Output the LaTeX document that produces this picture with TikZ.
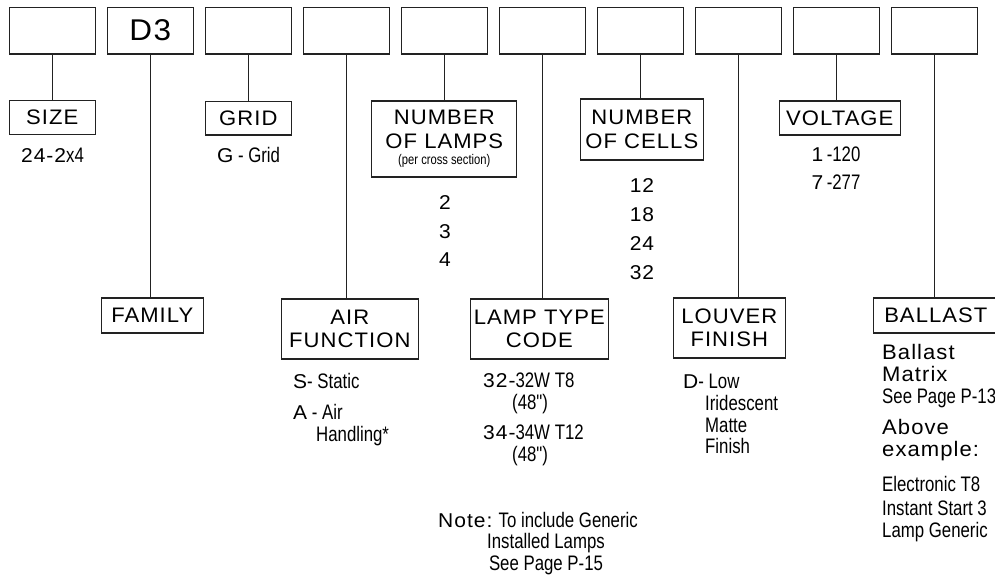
\documentclass[tikz,border=0pt]{standalone}
\usepackage{fontspec}
\setmainfont{Liberation Sans}
\newfontfamily\widefont{Liberation Sans}[FakeStretch=1.05,LetterSpace=5]
\newfontfamily\narrowfont{Liberation Sans}[FakeStretch=0.8]
\newcommand\wideL{\widefont\fontsize{21}{22}\selectfont}
\usetikzlibrary{positioning}
\definecolor{inkgray}{HTML}{222222}

\begin{document}
\begin{tikzpicture}[
  x=1pt, y=-1pt,
  codebox/.style={rectangle, draw=inkgray, line width=1.1pt, minimum width=86pt,
    minimum height=46.7pt, inner sep=0pt, outer sep=0pt,
    font=\widefont\fontsize{30}{32}\selectfont},
  field/.style={rectangle, draw=inkgray, line width=1.1pt, inner sep=0pt,
    outer sep=0pt, align=center, font=\widefont\fontsize{21}{23.5}\selectfont},
  choice/.style={inner sep=0pt, align=left, anchor=north west,
    font=\narrowfont\fontsize{21}{22}\selectfont},
  numlist/.style={inner sep=0pt, align=center, anchor=north,
    font=\widefont\fontsize{20}{#1}\selectfont},
  wire/.style={draw=inkgray, line width=0.9pt},
  node distance=12pt,
]
  \clip (0,0) rectangle (995,578);

  % catalogue code boxes
  \node[codebox] (c1) at (52.3,30.65) {};
  \node[codebox, right=of c1] (c2) {D3};
  \node[codebox, right=of c2] (c3) {};
  \node[codebox, right=of c3] (c4) {};
  \node[codebox, right=of c4] (c5) {};
  \node[codebox, right=of c5] (c6) {};
  \node[codebox, right=of c6] (c7) {};
  \node[codebox, right=of c7] (c8) {};
  \node[codebox, right=of c8] (c9) {};
  \node[codebox, right=of c9] (c10) {};

  % field names
  \node[field, below=46.7pt of c1, minimum width=86pt, minimum height=34pt] (size) {SIZE};
  \node[field, below=47.7pt of c3, minimum width=86pt, minimum height=33.3pt] (grid) {GRID};
  \node[field, below=244pt of c2, xshift=2pt, minimum width=102pt, minimum height=35pt] (family) {FAMILY};
  \node[field, below=245pt of c4, xshift=3.5pt, minimum width=137pt, minimum height=60pt] (airfn) {AIR\\FUNCTION};
  \node[field, below=47pt of c5, minimum width=145pt, minimum height=76pt] (lamps)
    {NUMBER\\OF LAMPS\\[-7pt]\narrowfont\fontsize{14}{15}\selectfont (per cross section)};
  \node[field, below=245pt of c6, xshift=-3pt, minimum width=138pt, minimum height=60pt] (lamptype) {LAMP TYPE\\CODE};
  \node[field, below=45pt of c7, xshift=1.5pt, minimum width=123pt, minimum height=61pt] (cells) {NUMBER\\OF CELLS};
  \node[field, below=244pt of c8, xshift=-9pt, minimum width=112pt, minimum height=60pt] (louver) {LOUVER\\FINISH};
  \node[field, below=47pt of c9, xshift=3.5pt, minimum width=121pt, minimum height=34pt] (voltage) {VOLTAGE};
  \node[field, below=244pt of c10, xshift=1.5pt, minimum width=125pt, minimum height=35pt] (ballast) {BALLAST};

  \draw[wire] (c1.south) -- (c1.south |- size.north);
  \draw[wire] (c2.south) -- (c2.south |- family.north);
  \draw[wire] (c3.south) -- (c3.south |- grid.north);
  \draw[wire] (c4.south) -- (c4.south |- airfn.north);
  \draw[wire] (c5.south) -- (c5.south |- lamps.north);
  \draw[wire] (c6.south) -- (c6.south |- lamptype.north);
  \draw[wire] (c7.south) -- (c7.south |- cells.north);
  \draw[wire] (c8.south) -- (c8.south |- louver.north);
  \draw[wire] (c9.south) -- (c9.south |- voltage.north);
  \draw[wire] (c10.south) -- (c10.south |- ballast.north);

  % options
  \node[choice, anchor=center] (sizeopt) at (52.5,155) {{\widefont\fontsize{20}{22}\selectfont 24-2}x4};
  \node[choice, anchor=center] (gridopt) at (248.5,155) {{\widefont\fontsize{20}{22}\selectfont G} - Grid};
  \node[numlist=28.5] (lampsopt) at (445,195.5) {2\\3\\4};
  \node[numlist=29] (cellsopt) at (642,178.5) {12\\18\\24\\32};
  \node[choice, align=center, anchor=north, font=\narrowfont\fontsize{21}{28}\selectfont] (voltopt) at (836,147)
    {{\widefont\fontsize{20}{28}\selectfont 1}\,-120\\{\widefont\fontsize{20}{28}\selectfont 7}\,-277};
  \node[choice] (airopt) at (293,373)
    {{\widefont\fontsize{20}{22}\selectfont S}- Static\\[9pt]{\widefont\fontsize{20}{22}\selectfont A} - Air\\\hspace*{23pt}Handling*};
  \node[choice] (lampopt) at (483,373)
    {{\widefont\fontsize{20}{22}\selectfont 32-}32W T8\\\hspace*{29pt}(48")\\[8pt]{\widefont\fontsize{20}{22}\selectfont 34-}34W T12\\\hspace*{29pt}(48")};
  \node[choice, font=\narrowfont\fontsize{21}{21.7}\selectfont] (louveropt) at (683,374)
    {{\widefont\fontsize{20}{22}\selectfont D}- Low\\\hspace*{22pt}Iridescent\\\hspace*{22pt}Matte\\\hspace*{22pt}Finish};
  \node[choice] (ballastopt) at (882,344)
    {\wideL Ballast\\\wideL Matrix\\\narrowfont See Page P-13\\[9pt]\wideL Above\\\wideL example:\\[13pt]%
     \narrowfont Electronic T8\\[2pt]\narrowfont Instant Start 3\\\narrowfont Lamp Generic};
  \node[choice, align=center, anchor=north, font=\narrowfont\fontsize{21}{21.5}\selectfont] (note) at (538,512)
    {{\widefont\fontsize{20}{22}\selectfont Note:} To include Generic\\\hspace*{16pt}Installed Lamps\\\hspace*{16pt}See Page P-15};
\end{tikzpicture}
\end{document}
